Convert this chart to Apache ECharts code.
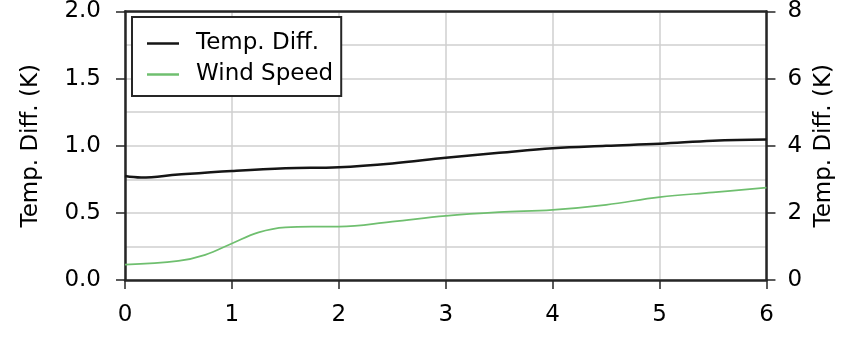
<!DOCTYPE html>
<html>
<head>
<meta charset="utf-8">
<script src="https://cdn.jsdelivr.net/npm/echarts@6/dist/echarts.min.js"></script>
<style>html,body{margin:0;padding:0;background:#fff;}#c{width:844px;height:337px;}</style>
</head>
<body>
<div id="c"></div>
<script>
// Data
var tempX    = [0, 0.15, 0.5, 1, 1.5, 2, 2.5, 3, 3.5, 4, 4.5, 5, 5.5, 6];
var tempDiff = [0.774, 0.763, 0.785, 0.812, 0.832, 0.840, 0.868, 0.910, 0.947, 0.982, 1.000, 1.015, 1.038, 1.047];

var windX     = [0, 0.5, 0.75, 1, 1.25, 1.5, 1.75, 2, 2.5, 3, 3.5, 4, 4.5, 5, 5.5, 6];
// wind speed in right-axis units (0-8)
var windSpeed = [0.46, 0.57, 0.75, 1.09, 1.42, 1.57, 1.59, 1.59, 1.74, 1.91, 2.02, 2.09, 2.24, 2.47, 2.61, 2.75];

var seriesNames = ['Temp. Diff.', 'Wind Speed'];
var leftAxisName = 'Temp. Diff. (K)';
var rightAxisName = 'Temp. Diff. (K)';

function pairs(xs, ys){ return xs.map(function(x,i){ return [x, ys[i]]; }); }

var FONT = '"DejaVu Sans", "Liberation Sans", Arial, sans-serif';
var frame = '#262626';
var gridCol = '#cfcfcf';
var blackLine = '#151515';
var greenLine = '#6fbf6f';
var txt = '#000';

var chart = echarts.init(document.getElementById('c'), null, {renderer:'canvas'});
chart.setOption({
  animation: false,
  backgroundColor: '#fff',
  grid: { left: 125, right: 73, top: 8, bottom: 57, show: false },
  legend: {
    data: [
      { name: seriesNames[0], icon: 'rect', itemStyle: { color: blackLine } },
      { name: seriesNames[1], icon: 'rect', itemStyle: { color: greenLine } }
    ],
    orient: 'vertical',
    left: 132, top: 17,
    padding: [15, 8, 10, 15],
    itemWidth: 32, itemHeight: 2.5, itemGap: 8,
    borderColor: frame, borderWidth: 2, borderRadius: 0,
    backgroundColor: '#fff',
    textStyle: { fontFamily: FONT, fontSize: 23, color: txt, padding: [0,0,0,12], lineHeight: 21 }
  },
  xAxis: [{
    type: 'value', min: 0, max: 6, interval: 1, position: 'bottom',
    axisLine: { show: true, onZero: false, lineStyle: { color: frame, width: 2.5 } },
    axisTick: { show: true, length: 9, lineStyle: { color: frame, width: 1.5 } },
    axisLabel: { fontFamily: FONT, fontSize: 23, color: txt, margin: 24 },
    splitLine: { show: true, lineStyle: { color: gridCol, width: 1.5 } }
  }, {
    type: 'value', min: 0, max: 6, interval: 1, position: 'top',
    axisLine: { show: true, onZero: false, lineStyle: { color: frame, width: 2.5 } },
    axisTick: { show: false }, axisLabel: { show: false }, splitLine: { show: false }
  }],
  yAxis: [{
    type: 'value', min: 0, max: 2, interval: 0.5, position: 'left',
    name: leftAxisName, nameLocation: 'middle', nameGap: 82, nameRotate: 90,
    nameTextStyle: { fontFamily: FONT, fontSize: 23, color: txt },
    axisLine: { show: true, onZero: false, lineStyle: { color: frame, width: 2.5 } },
    axisTick: { show: true, length: 9, lineStyle: { color: frame, width: 1.5 } },
    axisLabel: { fontFamily: FONT, fontSize: 23, color: txt, margin: 24, formatter: function(v){ return v.toFixed(1); } },
    splitLine: { show: true, lineStyle: { color: gridCol, width: 1.5 } },
    minorTick: { show: false, splitNumber: 2 },
    minorSplitLine: { show: true, lineStyle: { color: gridCol, width: 1.5 } }
  }, {
    type: 'value', min: 0, max: 8, interval: 2, position: 'right',
    name: rightAxisName, nameLocation: 'middle', nameGap: 46, nameRotate: 90,
    nameTextStyle: { fontFamily: FONT, fontSize: 23, color: txt },
    axisLine: { show: true, onZero: false, lineStyle: { color: frame, width: 2.5 } },
    axisTick: { show: true, length: 9, lineStyle: { color: frame, width: 1.5 } },
    axisLabel: { fontFamily: FONT, fontSize: 23, color: txt, margin: 21 },
    splitLine: { show: false }
  }],
  series: [{
    name: seriesNames[0], type: 'line', yAxisIndex: 0,
    data: pairs(tempX, tempDiff), smooth: 0.4, symbol: 'none',
    lineStyle: { color: blackLine, width: 2.5 }, itemStyle: { color: blackLine }, z: 3
  }, {
    name: seriesNames[1], type: 'line', yAxisIndex: 1,
    data: pairs(windX, windSpeed), smooth: 0.4, symbol: 'none',
    lineStyle: { color: greenLine, width: 1.7 }, itemStyle: { color: greenLine }, z: 2
  }]
});
</script>
</body>
</html>
